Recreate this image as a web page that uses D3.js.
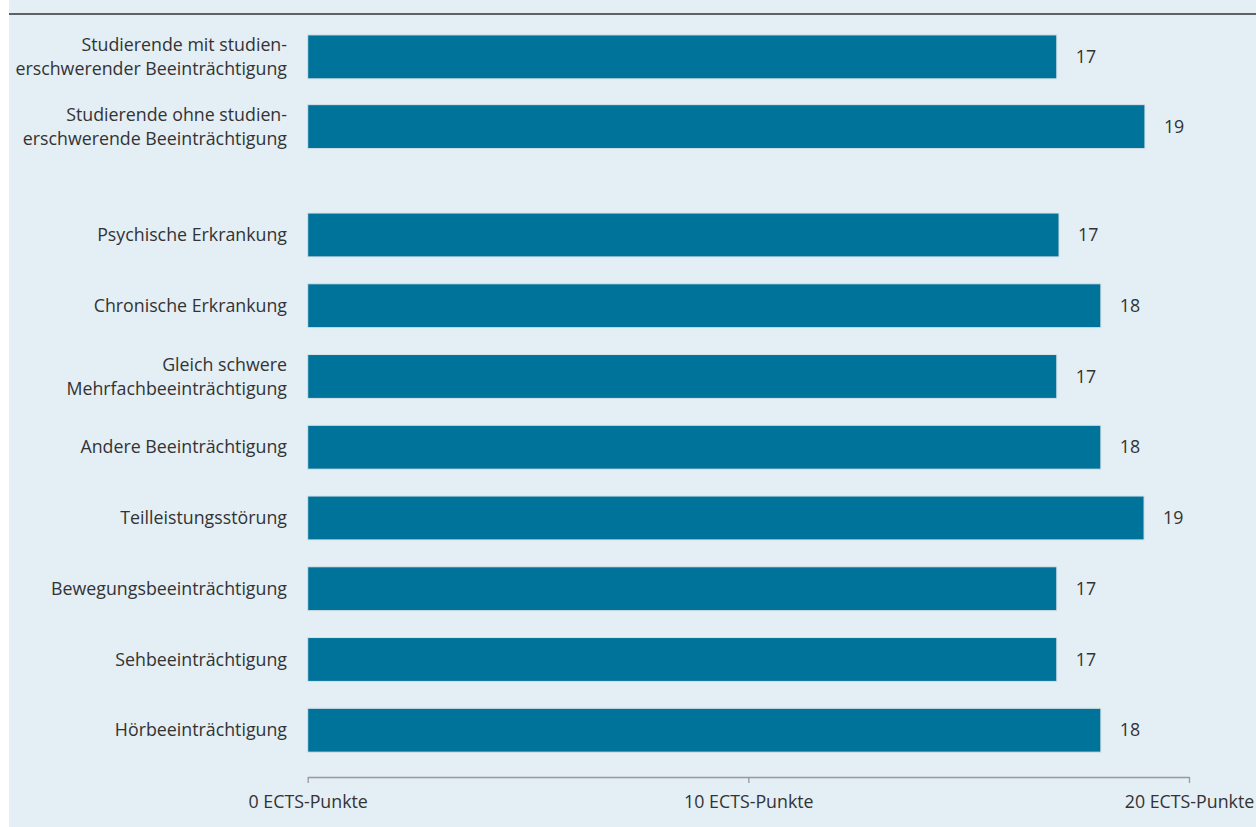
<!DOCTYPE html>
<html><head><meta charset="utf-8">
<script src="https://cdn.jsdelivr.net/npm/d3@7"></script>
<style>
html,body{margin:0;padding:0;background:#fff;}
svg{display:block;}
text{font-family:"Open Sans","Noto Sans",sans-serif;fill:#333;}
</style></head>
<body>
<svg id="c" width="1256" height="827"></svg>
<script>
const groupA = ["Studierende mit studien-|erschwerender Beeinträchtigung", "Studierende ohne studien-|erschwerende Beeinträchtigung"];
const valuesA = [17.0, 19.0];
const labelsA = ["17", "19"];
const groupB = ["Psychische Erkrankung", "Chronische Erkrankung", "Gleich schwere|Mehrfachbeeinträchtigung", "Andere Beeinträchtigung", "Teilleistungsstörung", "Bewegungsbeeinträchtigung", "Sehbeeinträchtigung", "Hörbeeinträchtigung"];
const valuesB = [17.05, 18.0, 17.0, 18.0, 18.98, 17.0, 17.0, 18.0];
const labelsB = ["17", "18", "17", "18", "19", "17", "17", "18"];
const tickValues = [0, 10, 20];
const tickLabels = ["0 ECTS-Punkte", "10 ECTS-Punkte", "20 ECTS-Punkte"];

const FS = 17.8;
const svg = d3.select("#c");
svg.append("rect").attr("x", 9).attr("y", 0).attr("width", 1247).attr("height", 827).attr("fill", "#e3eef5");
svg.append("line").attr("x1", 9).attr("x2", 1256).attr("y1", 14).attr("y2", 14).attr("stroke", "#333").attr("stroke-width", 1.5);

const x = d3.scaleLinear().domain([0, 20]).range([307.7, 1189]);
const yA = d3.scaleBand().domain(groupA).range([22, 161.5]).paddingInner(0.37).paddingOuter(0.185);
const yB = d3.scaleBand().domain(groupB).range([199.6, 765.6]).paddingInner(0.38).paddingOuter(0.19);

const barColor = "#00739a";
function drawGroup(cats, vals, labs, y) {
  const g = svg.append("g");
  cats.forEach((c, i) => {
    const y0 = y(c), h = y.bandwidth();
    g.append("rect").attr("x", x(0)).attr("y", y0).attr("width", x(vals[i]) - x(0)).attr("height", h)
      .attr("fill", barColor).attr("stroke", "#d9e2e8").attr("stroke-width", 1);
    const lines = c.split("|");
    const cy = y0 + h / 2;
    const lh = 24;
    lines.forEach((ln, j) => {
      g.append("text").attr("x", 287).attr("y", cy + (j - (lines.length - 1) / 2) * lh)
        .attr("dy", "0.35em").attr("text-anchor", "end").attr("font-size", FS).text(ln);
    });
    g.append("text").attr("x", x(vals[i]) + 19).attr("y", cy).attr("dy", "0.35em")
      .attr("font-size", FS).text(labs[i]);
  });
}
drawGroup(groupA, valuesA, labelsA, yA);
drawGroup(groupB, valuesB, labelsB, yB);

const axis = d3.axisBottom(x).tickValues(tickValues).tickSize(6).tickSizeOuter(0)
  .tickFormat((d, i) => tickLabels[i]);
const ag = svg.append("g").attr("transform", "translate(0,777)").call(axis);
ag.select(".domain").attr("stroke", "#999").attr("stroke-width", 1.3);
ag.selectAll(".tick line").attr("stroke", "#999").attr("stroke-width", 1.3);
ag.selectAll(".tick text").attr("font-size", FS).attr("fill", "#333").attr("dy", "1.22em")
  .style("font-family", '"Open Sans","Noto Sans",sans-serif');
</script>
</body></html>
